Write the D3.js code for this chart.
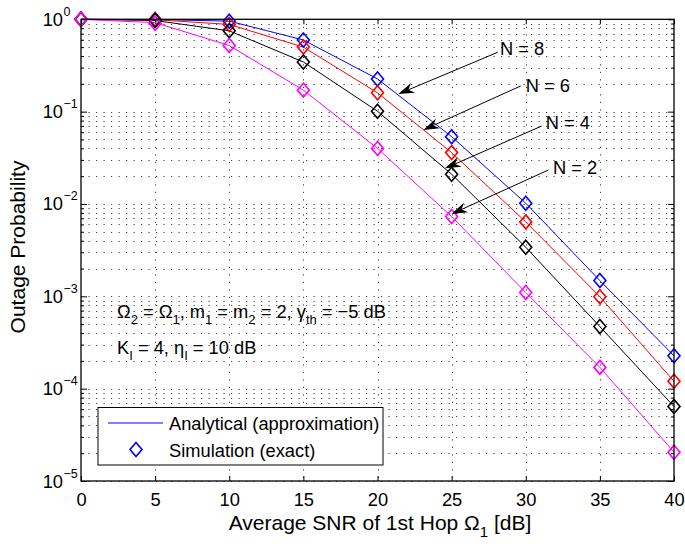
<!DOCTYPE html>
<html>
<head>
<meta charset="utf-8">
<script src="https://cdn.jsdelivr.net/npm/d3@7"></script>
<style>
  html, body { margin: 0; padding: 0; background: #fff; }
  svg { display: block; }
  text { font-family: "Liberation Sans", Arial, Helvetica, sans-serif; fill: #000; }
</style>
</head>
<body>
<svg id="chart" width="685" height="547"></svg>
<script>
// ---------------- DATA ----------------
const snrDb = [0, 5, 10, 15, 20, 25, 30, 35, 40];
const seriesNames = ["N = 8", "N = 6", "N = 4", "N = 2"];
const simN8 = [1, 0.995, 0.955, 0.597, 0.226, 0.0536, 0.0102, 0.00148, 0.000227];
const simN6 = [1, 0.99, 0.88, 0.50, 0.16, 0.036, 0.0064, 0.00099, 0.000120];
const simN4 = [1, 0.97, 0.75, 0.345, 0.101, 0.021, 0.0034, 0.00047, 0.0000640];
const simN2 = [1, 0.905, 0.52, 0.171, 0.040, 0.0073, 0.0011, 0.00017, 0.0000205];
const anaN8 = [1, 0.995, 0.955, 0.597, 0.226, 0.0536, 0.0102, 0.00148, 0.000227];
const anaN6 = [1, 0.99, 0.88, 0.50, 0.16, 0.036, 0.0064, 0.00099, 0.000120];
const anaN4 = [1, 0.97, 0.75, 0.345, 0.101, 0.021, 0.0034, 0.00047, 0.0000640];
const anaN2 = [1, 0.92, 0.52, 0.171, 0.040, 0.0073, 0.0011, 0.00017, 0.0000205];
const xTicks = [0, 5, 10, 15, 20, 25, 30, 35, 40];
const yTickExps = [0, -1, -2, -3, -4, -5];
// annotation arrows, in data units
const arrowTailX = [28.11, 29.66, 31.08, 31.52];
const arrowTailY = [0.4395, 0.1896, 0.0699, 0.0233];
const arrowTipX  = [21.40, 23.09, 24.55, 24.99];
const arrowTipY  = [0.155, 0.0633, 0.0243, 0.00778];
const labelX     = [28.26, 30.0, 31.35, 31.84];
const labelY     = [0.41, 0.164, 0.0644, 0.0211];
const legendLabels = ["Analytical (approximation)", "Simulation (exact)"];

// ---------------- LAYOUT ----------------
const L = 81, R = 674, T = 19.3, B = 481;
const colors = ["#0000ff", "#ff0000", "#000000", "#ff00ff"];
const sims = [simN8, simN6, simN4, simN2];
const anas = [anaN8, anaN6, anaN4, anaN2];
const FS = 18.3;

const svg = d3.select("#chart");
const x = d3.scaleLinear().domain([0, 40]).range([L, R]);
const y = d3.scaleLog().domain([1e-5, 1]).range([B, T]);

// grid values
const yMinor = [];
for (let e = -5; e < 0; e++) for (let m = 2; m <= 9; m++) yMinor.push(m * Math.pow(10, e));
const yMajor = yTickExps.map(e => Math.pow(10, e));

const grid = svg.append("g").attr("stroke", "#000").attr("stroke-width", 1)
  .attr("stroke-dasharray", "1.2,6.3").attr("stroke-opacity", 0.75);
grid.selectAll(".gx").data(xTicks.slice(1, -1)).join("line")
  .attr("x1", d => Math.round(x(d)) + 0.5).attr("x2", d => Math.round(x(d)) + 0.5)
  .attr("y1", T).attr("y2", B);
grid.selectAll(".gy").data(yMajor.concat(yMinor)).join("line")
  .attr("x1", L).attr("x2", R)
  .attr("y1", d => Math.round(y(d)) + 0.5).attr("y2", d => Math.round(y(d)) + 0.5);

// axes
const axB = d3.axisBottom(x).tickValues(xTicks).tickSize(-5).tickPadding(12).tickFormat(d3.format("d"));
const gB = svg.append("g").attr("transform", `translate(0,${B})`).call(axB);
const axT = d3.axisTop(x).tickValues(xTicks).tickSize(-5).tickFormat("");
const gT = svg.append("g").attr("transform", `translate(0,${T})`).call(axT);
const axLmaj = d3.axisLeft(y).tickValues(yMajor).tickSize(-6).tickFormat("");
const axLmin = d3.axisLeft(y).tickValues(yMinor).tickSize(-3).tickFormat("");
const axRmaj = d3.axisRight(y).tickValues(yMajor).tickSize(-6).tickFormat("");
const axRmin = d3.axisRight(y).tickValues(yMinor).tickSize(-3).tickFormat("");
const gL1 = svg.append("g").attr("transform", `translate(${L},0)`).call(axLmaj);
const gL2 = svg.append("g").attr("transform", `translate(${L},0)`).call(axLmin);
const gR1 = svg.append("g").attr("transform", `translate(${R},0)`).call(axRmaj);
const gR2 = svg.append("g").attr("transform", `translate(${R},0)`).call(axRmin);
[gB, gT, gL1, gL2, gR1, gR2].forEach(g => {
  g.select(".domain").remove();
  g.selectAll(".tick line").attr("stroke", "#000").attr("stroke-width", 1);
});
gB.selectAll(".tick text").attr("font-size", FS).attr("font-family", '"Liberation Sans", Arial, sans-serif');

// y tick labels with superscript
const yl = svg.append("g");
yTickExps.forEach(e => {
  yl.append("text").attr("x", 63).attr("y", y(Math.pow(10, e)) + 6.5)
    .attr("font-size", FS).attr("text-anchor", "end").text("10");
  yl.append("text").attr("x", 63.5).attr("y", y(Math.pow(10, e)) - 3.5)
    .attr("font-size", 12.5).text(e === 0 ? "0" : "\u2212" + Math.abs(e));
});

// analytical lines
const line = d3.line().x((d, i) => x(snrDb[i])).y(d => y(d));
anas.forEach((a, k) => {
  svg.append("path").datum(a).attr("d", line).attr("fill", "none")
    .attr("stroke", colors[k]).attr("stroke-width", 1);
});

// diamond markers
function diamond(cx, cy, w, h) {
  return `M${cx},${cy - h}L${cx + w},${cy}L${cx},${cy + h}L${cx - w},${cy}Z`;
}
sims.forEach((s, k) => {
  svg.append("g").selectAll("path").data(s).join("path")
    .attr("d", (d, i) => diamond(x(snrDb[i]), y(d), 6, 7))
    .attr("fill", "none").attr("stroke", colors[k]).attr("stroke-width", 1.6);
});

// axes box
svg.append("rect").attr("x", L).attr("y", T).attr("width", R - L).attr("height", B - T)
  .attr("fill", "none").attr("stroke", "#000").attr("stroke-width", 1.3);

// annotation arrows
seriesNames.forEach((name, k) => {
  const x1 = x(arrowTailX[k]), y1 = y(arrowTailY[k]);
  const x2 = x(arrowTipX[k]), y2 = y(arrowTipY[k]);
  const dx = x2 - x1, dy = y2 - y1, len = Math.hypot(dx, dy);
  const ux = dx / len, uy = dy / len, nx = -uy, ny = ux;
  const HL = 16, HW = 5.2, NOTCH = 11;
  const bx = x2 - HL * ux, by = y2 - HL * uy;
  const mx = x2 - NOTCH * ux, my = y2 - NOTCH * uy;
  svg.append("line").attr("x1", x1).attr("y1", y1).attr("x2", mx).attr("y2", my)
    .attr("stroke", "#000").attr("stroke-width", 1);
  svg.append("path")
    .attr("d", `M${x2},${y2}L${bx + HW * nx},${by + HW * ny}L${mx},${my}L${bx - HW * nx},${by - HW * ny}Z`)
    .attr("fill", "#000");
  svg.append("text").attr("x", x(labelX[k])).attr("y", y(labelY[k]))
    .attr("font-size", FS).text(name);
});

// parameter text
const p1 = svg.append("text").attr("x", 117).attr("y", 318).attr("font-size", FS);
const sub = (el, txt) => el.append("tspan").attr("font-size", 13).attr("dy", 6).text(txt);
const norm = (el, txt) => el.append("tspan").attr("dy", -6).text(txt);
p1.append("tspan").text("\u03A9");
sub(p1, "2"); norm(p1, " = \u03A9");
sub(p1, "1"); norm(p1, ", m");
sub(p1, "1"); norm(p1, " = m");
sub(p1, "2"); norm(p1, " = 2, \u03B3");
sub(p1, "th"); norm(p1, " = \u22125 dB");
const p2 = svg.append("text").attr("x", 117).attr("y", 354).attr("font-size", FS);
p2.append("tspan").text("K");
sub(p2, "I"); norm(p2, " = 4, \u03B7");
sub(p2, "I"); norm(p2, " = 10 dB");

// legend
const lg = svg.append("g");
lg.append("rect").attr("x", 98).attr("y", 407.5).attr("width", 285).attr("height", 57.5)
  .attr("fill", "#fff").attr("stroke", "#000").attr("stroke-width", 1);
lg.append("line").attr("x1", 108).attr("x2", 163).attr("y1", 423).attr("y2", 423)
  .attr("stroke", colors[0]).attr("stroke-width", 1);
lg.append("path").attr("d", diamond(136, 449.5, 6, 7)).attr("fill", "none")
  .attr("stroke", colors[0]).attr("stroke-width", 1.6);
lg.append("text").attr("x", 169).attr("y", 430).attr("font-size", FS).text(legendLabels[0]);
lg.append("text").attr("x", 169).attr("y", 456.5).attr("font-size", FS).text(legendLabels[1]);

// axis titles
const xt = svg.append("text").attr("x", 380).attr("y", 530).attr("font-size", 21)
  .attr("text-anchor", "middle");
xt.append("tspan").text("Average SNR of 1st Hop \u03A9");
xt.append("tspan").attr("font-size", 15).attr("dy", 7).text("1");
xt.append("tspan").attr("dy", -7).text(" [dB]");
svg.append("text").attr("transform", "translate(25,247) rotate(-90)")
  .attr("font-size", 21).attr("text-anchor", "middle").text("Outage Probability");
</script>
</body>
</html>
